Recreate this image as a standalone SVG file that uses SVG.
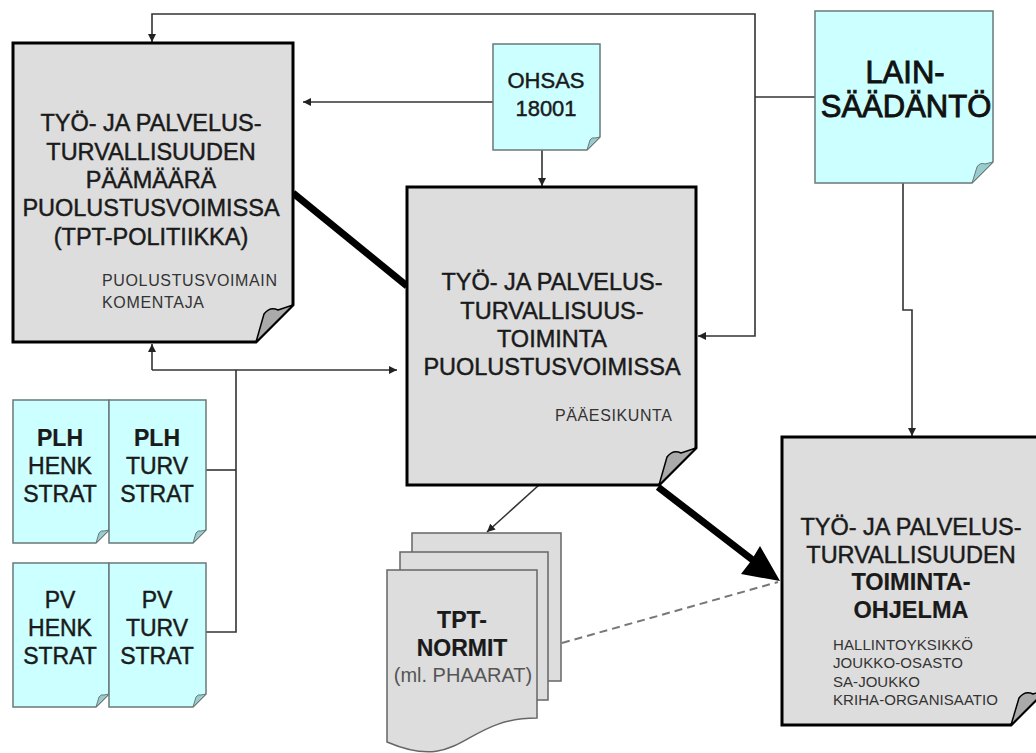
<svg xmlns="http://www.w3.org/2000/svg" width="1036" height="753" viewBox="0 0 1036 753">
  <defs>
    <marker id="arr" viewBox="0 0 10 10" refX="10" refY="5" markerWidth="8" markerHeight="8" markerUnits="userSpaceOnUse" orient="auto">
      <path d="M0,0 L10,5 L0,10 Z" fill="#222"/>
    </marker>
    <style>
      text { font-family: "Liberation Sans", Arial, sans-serif; fill: #1a1a1a; stroke: #1a1a1a; stroke-width: 0.45px; }
      .big { font-size: 23.5px; text-anchor: middle; }
      .bold { font-weight: bold; stroke-width: 0.2px; }
      .small { font-size: 16px; fill: #333; stroke: none; }
      .tiny { font-size: 15px; fill: #333; stroke: none; }
      .doc { fill: #dddddd; stroke: #000; stroke-width: 3; stroke-linejoin: miter; }
      .docfold { fill: #aaaaaa; stroke: #000; stroke-width: 1.5; stroke-linejoin: round; }
      .cyan { fill: #ccffff; stroke: #6a7a7a; stroke-width: 1.5; }
      .cyanfold { fill: #99cccc; stroke: #6a7a7a; stroke-width: 1; }
      .page { fill: #dddddd; stroke: #666; stroke-width: 1.5; }
      .conn { fill: none; stroke: #333; stroke-width: 1.6; }
      .thick { fill: none; stroke: #000; stroke-width: 7; }
      .dash { fill: none; stroke: #777; stroke-width: 2; stroke-dasharray: 8 5; }
    </style>
  </defs>

  <!-- connectors -->
  <g id="connectors">
    <!-- legislation feeds the policy and the activity -->
    <polyline class="conn" points="755,97 755,14 152,14 152,42" marker-end="url(#arr)"/>
    <line class="conn" x1="815" y1="97" x2="755" y2="97"/>
    <polyline class="conn" points="755,97 755,336 698,336" marker-end="url(#arr)"/>
    <polyline class="conn" points="903,183 903,310 912,310 912,436" marker-end="url(#arr)"/>
    <!-- OHSAS 18001 -->
    <line class="conn" x1="493" y1="102" x2="303" y2="102" marker-end="url(#arr)"/>
    <line class="conn" x1="542" y1="150" x2="542" y2="186" marker-end="url(#arr)"/>
    <!-- strategies bracket -->
    <line class="conn" x1="152" y1="370" x2="152" y2="344" marker-end="url(#arr)"/>
    <polyline class="conn" points="152,370 236,370 397,370" marker-end="url(#arr)"/>
    <polyline class="conn" points="206,470 236,470"/>
    <polyline class="conn" points="236,370 236,632 206,632"/>
    <!-- activity to norms -->
    <line class="conn" x1="539" y1="485" x2="487" y2="532" marker-end="url(#arr)"/>
    <!-- thick links -->
    <line class="thick" x1="293" y1="193" x2="407" y2="286"/>
    <line class="thick" x1="658" y1="487" x2="754" y2="561"/>
    <path d="M780,581 L741,574 L751,561 L760,546 Z" fill="#000"/>
    <line class="dash" x1="562" y1="643" x2="778" y2="582"/>
  </g>

  <!-- policy -->
  <g id="node-policy">
    <path class="doc" d="M13,43 H293 V305 L256,342 H13 Z"/>
    <path class="docfold" d="M256,342 L264,314 Q270,306 278,310 L293,305 Z"/>
    <text class="big" x="151" y="131">TYÖ- JA PALVELUS-</text>
    <text class="big" x="151" y="160">TURVALLISUUDEN</text>
    <text class="big" x="151" y="188">PÄÄMÄÄRÄ</text>
    <text class="big" x="151" y="216">PUOLUSTUSVOIMISSA</text>
    <text class="big" x="151" y="245">(TPT-POLITIIKKA)</text>
    <text class="small" x="102" y="286" textLength="175" lengthAdjust="spacing">PUOLUSTUSVOIMAIN</text>
    <text class="small" x="102" y="308" textLength="102" lengthAdjust="spacing">KOMENTAJA</text>
  </g>

  <!-- OHSAS -->
  <g id="node-ohsas">
    <path class="cyan" d="M493,44 H600 V137 L587,150 H493 Z"/>
    <path class="cyanfold" d="M587,150 L590,140 Q592,137 595,138 L600,137 Z"/>
    <text x="546" y="88" style="font-size:22px;text-anchor:middle">OHSAS</text>
    <text x="546" y="116" style="font-size:22px;text-anchor:middle">18001</text>
  </g>

  <!-- legislation -->
  <g id="node-lainsaadanto">
    <path class="cyan" d="M815,11 H993 V162 L972,183 H815 Z"/>
    <path class="cyanfold" d="M972,183 L977,167 Q980,162 985,164 L993,162 Z"/>
    <text x="905" y="83" style="font-size:31px;text-anchor:middle;fill:#111;stroke:#111;stroke-width:0.9px">LAIN-</text>
    <text x="906" y="117" style="font-size:31px;text-anchor:middle;fill:#111;stroke:#111;stroke-width:0.9px">SÄÄDÄNTÖ</text>
  </g>

  <!-- activity -->
  <g id="node-activity">
    <path class="doc" d="M407,187 H696 V448 L659,485 H407 Z"/>
    <path class="docfold" d="M659,485 L667,457 Q673,449 681,453 L696,448 Z"/>
    <text class="big" x="552" y="290">TYÖ- JA PALVELUS-</text>
    <text class="big" x="552" y="319">TURVALLISUUS-</text>
    <text class="big" x="552" y="347">TOIMINTA</text>
    <text class="big" x="552" y="375">PUOLUSTUSVOIMISSA</text>
    <text class="small" x="555" y="421" textLength="117" lengthAdjust="spacing">PÄÄESIKUNTA</text>
  </g>

  <!-- programme -->
  <g id="node-programme">
    <path class="doc" d="M782,437 H1046 V690 L1011,725 H782 Z"/>
    <path class="docfold" d="M1011,725 L1019,698 Q1025,690 1033,694 L1046,690 Z"/>
    <text class="big" x="911" y="535">TYÖ- JA PALVELUS-</text>
    <text class="big" x="911" y="563">TURVALLISUUDEN</text>
    <text class="big bold" x="911" y="590">TOIMINTA-</text>
    <text class="big bold" x="911" y="618">OHJELMA</text>
    <text class="tiny" x="833" y="650" textLength="140" lengthAdjust="spacing">HALLINTOYKSIKKÖ</text>
    <text class="tiny" x="833" y="668" textLength="130" lengthAdjust="spacing">JOUKKO-OSASTO</text>
    <text class="tiny" x="833" y="687" textLength="87" lengthAdjust="spacing">SA-JOUKKO</text>
    <text class="tiny" x="833" y="705" textLength="165" lengthAdjust="spacing">KRIHA-ORGANISAATIO</text>
  </g>

  <!-- norms -->
  <g id="node-norms">
    <rect class="page" x="412" y="533" width="149" height="148"/>
    <rect class="page" x="400" y="552" width="148" height="148"/>
    <path class="page" d="M387,570 H537 V718 C462,718 462,774 387,742 Z"/>
    <text x="462" y="628" class="bold" style="font-size:23px;text-anchor:middle">TPT-</text>
    <text x="462" y="656" class="bold" style="font-size:23px;text-anchor:middle">NORMIT</text>
    <text x="463" y="682" style="font-size:20px;text-anchor:middle;fill:#555;stroke:none">(ml. PHAARAT)</text>
  </g>

  <!-- strategies -->
  <g id="node-plh-henk">
    <path class="cyan" d="M13,400 H109 V530 L96,543 H13 Z"/>
    <path class="cyanfold" d="M96,543 L99,533 Q101,530 104,531 L109,530 Z"/>
    <text x="60" y="446" class="bold" style="font-size:23px;text-anchor:middle">PLH</text>
    <text x="60" y="474" style="font-size:23px;text-anchor:middle">HENK</text>
    <text x="60" y="502" style="font-size:23px;text-anchor:middle">STRAT</text>
  </g>
  <g id="node-plh-turv">
    <path class="cyan" d="M109,400 H206 V530 L193,543 H109 Z"/>
    <path class="cyanfold" d="M193,543 L196,533 Q198,530 201,531 L206,530 Z"/>
    <text x="157" y="446" class="bold" style="font-size:23px;text-anchor:middle">PLH</text>
    <text x="157" y="474" style="font-size:23px;text-anchor:middle">TURV</text>
    <text x="157" y="502" style="font-size:23px;text-anchor:middle">STRAT</text>
  </g>
  <g id="node-pv-henk">
    <path class="cyan" d="M13,563 H109 V694 L96,707 H13 Z"/>
    <path class="cyanfold" d="M96,707 L99,697 Q101,694 104,695 L109,694 Z"/>
    <text x="60" y="608" style="font-size:23px;text-anchor:middle">PV</text>
    <text x="60" y="636" style="font-size:23px;text-anchor:middle">HENK</text>
    <text x="60" y="664" style="font-size:23px;text-anchor:middle">STRAT</text>
  </g>
  <g id="node-pv-turv">
    <path class="cyan" d="M109,563 H206 V694 L193,707 H109 Z"/>
    <path class="cyanfold" d="M193,707 L196,697 Q198,694 201,695 L206,694 Z"/>
    <text x="157" y="608" style="font-size:23px;text-anchor:middle">PV</text>
    <text x="157" y="636" style="font-size:23px;text-anchor:middle">TURV</text>
    <text x="157" y="664" style="font-size:23px;text-anchor:middle">STRAT</text>
  </g>
</svg>
